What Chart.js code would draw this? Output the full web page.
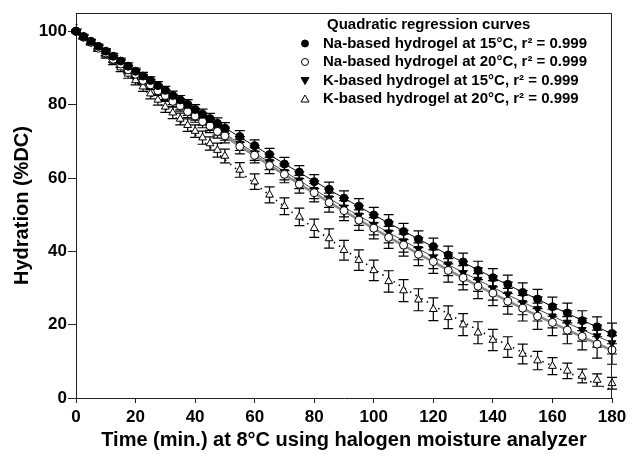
<!DOCTYPE html>
<html lang="en">
<head>
  <meta charset="UTF-8">
  <title>Hydration vs time</title>
  <script src="https://cdn.jsdelivr.net/npm/chart.js"></script>
  <style>
    body { margin: 0; background: #fff; }
    #wrap { width: 633px; height: 457px; }
  </style>
</head>
<body>
  <div id="wrap"><canvas id="chart" width="633" height="457"></canvas></div>

  <script>
    // time points (min.)
    const times = [0, 2.5, 5, 7.5, 10, 12.5, 15, 17.5, 20, 22.5, 25, 27.5, 30, 32.5, 35, 37.5, 40, 42.5, 45, 47.5, 50,
      55, 60, 65, 70, 75, 80, 85, 90, 95, 100, 105, 110, 115, 120, 125, 130, 135, 140, 145, 150, 155, 160, 165, 170, 175, 180];

    // hydration (%DC)
    const na15 = [100, 98.6, 97.3, 95.9, 94.6, 93.2, 91.9, 90.5, 89.1, 87.8, 86.6, 85.2, 83.9, 82.5, 81.3, 80.1, 78.7, 77.4, 76.2, 74.9, 73.6,
      71.3, 68.8, 66.4, 63.8, 61.6, 59.0, 56.9, 54.5, 52.3, 49.9, 47.8, 45.4, 43.3, 41.3, 39.0, 37.1, 34.8, 32.8, 31.0, 28.8, 27.0, 24.9, 23.2, 21.1, 19.4, 17.6];
    const na20 = [100, 98.4, 97.0, 95.4, 94.1, 92.4, 91.1, 89.5, 88.3, 86.6, 85.4, 83.8, 82.5, 80.9, 79.7, 78.1, 76.9, 75.4, 74.2, 72.7, 71.5,
      68.6, 66.2, 63.4, 61.0, 58.3, 56.0, 53.3, 51.1, 48.5, 46.3, 43.8, 41.7, 39.2, 37.2, 34.8, 32.8, 30.5, 28.6, 26.4, 24.5, 22.3, 20.6, 18.5, 16.8, 14.7, 13.1];
    const k15 = [100, 98.5, 97.1, 95.6, 94.2, 92.6, 91.3, 89.8, 88.5, 87.0, 85.7, 84.2, 82.8, 81.4, 80.1, 78.6, 77.4, 76.0, 74.7, 73.4, 72.1,
      69.4, 66.8, 64.4, 61.7, 59.4, 56.8, 54.5, 52.0, 49.8, 47.3, 45.2, 42.8, 40.7, 38.4, 36.5, 34.1, 32.3, 30.0, 28.3, 26.0, 24.3, 22.3, 20.6, 18.6, 16.9, 15.0];
    const k20 = [100, 98.6, 97.0, 95.3, 93.6, 91.9, 90.1, 88.4, 86.6, 84.9, 83.0, 81.3, 79.4, 77.8, 76.1, 74.4, 72.8, 71.0, 69.4, 67.6, 66.0,
      62.2, 59.0, 55.4, 52.3, 49.4, 46.3, 43.5, 40.3, 37.6, 34.8, 31.8, 29.3, 26.8, 24.2, 22.0, 20.0, 17.8, 15.8, 13.9, 12.0, 10.2, 8.7, 7.4, 6.0, 4.9, 4.0];

    // standard deviations
    const errNa15 = [0.3, 0.4, 0.5, 0.6, 0.7, 0.8, 0.8, 0.9, 0.9, 1.0, 1.0, 1.1, 1.1, 1.2, 1.2, 1.3, 1.3, 1.4, 1.4, 1.5, 1.5,
      1.6, 1.6, 1.7, 1.8, 1.8, 1.9, 2.0, 2.0, 2.1, 2.1, 2.2, 2.2, 2.3, 2.3, 2.4, 2.4, 2.5, 2.5, 2.5, 2.6, 2.6, 2.6, 2.7, 2.7, 2.7, 2.8];
    const errNa20 = [0.3, 0.5, 0.6, 0.7, 0.8, 0.9, 1.0, 1.1, 1.1, 1.2, 1.3, 1.3, 1.4, 1.5, 1.5, 1.6, 1.7, 1.7, 1.8, 1.8, 1.9,
      2.0, 2.1, 2.2, 2.3, 2.4, 2.5, 2.6, 2.7, 2.8, 2.9, 3.0, 3.0, 3.1, 3.2, 3.2, 3.3, 3.4, 3.4, 3.5, 3.5, 3.6, 3.6, 3.7, 3.7, 3.8, 3.9];
    const errK15 = [0.3, 0.5, 0.6, 0.7, 0.8, 0.9, 1.0, 1.0, 1.1, 1.2, 1.2, 1.3, 1.4, 1.4, 1.5, 1.5, 1.6, 1.6, 1.7, 1.7, 1.8,
      1.9, 2.0, 2.1, 2.2, 2.3, 2.4, 2.5, 2.6, 2.7, 2.8, 2.9, 3.0, 3.0, 3.1, 3.1, 3.2, 3.2, 3.3, 3.3, 3.3, 3.3, 3.2, 3.2, 3.1, 3.0, 3.0];
    const errK20 = [0.4, 0.6, 0.7, 0.8, 0.9, 1.0, 1.1, 1.2, 1.2, 1.3, 1.4, 1.4, 1.5, 1.6, 1.6, 1.7, 1.7, 1.8, 1.8, 1.9, 1.9,
      2.0, 2.1, 2.2, 2.3, 2.4, 2.5, 2.6, 2.7, 2.8, 2.8, 2.9, 3.0, 3.0, 3.1, 3.1, 3.0, 3.0, 2.9, 2.8, 2.7, 2.5, 2.3, 2.1, 1.9, 1.7, 1.6];

    const seriesNames = [
      'Na-based hydrogel at 15°C, r² = 0.999',
      'Na-based hydrogel at 20°C, r² = 0.999',
      'K-based hydrogel at 15°C, r² = 0.999',
      'K-based hydrogel at 20°C, r² = 0.999'
    ];
    const legendTitle = 'Quadratic regression curves';
    const xTicks = [0, 20, 40, 60, 80, 100, 120, 140, 160, 180];
    const yTicks = [0, 20, 40, 60, 80, 100];

    const FONT = 'Arial, "Liberation Sans", Helvetica, sans-serif';
    Chart.defaults.font.family = FONT;
    Chart.defaults.color = '#000';

    // least squares quadratic y = c0 + c1 x + c2 x^2
    function quadFit(xs, ys) {
      const s = [0, 0, 0, 0, 0], t = [0, 0, 0];
      xs.forEach((x, i) => {
        for (let k = 0; k < 5; k++) s[k] += Math.pow(x, k);
        for (let k = 0; k < 3; k++) t[k] += ys[i] * Math.pow(x, k);
      });
      const m = [[s[0], s[1], s[2], t[0]], [s[1], s[2], s[3], t[1]], [s[2], s[3], s[4], t[2]]];
      for (let c = 0; c < 3; c++) {
        for (let r = c + 1; r < 3; r++) {
          const f = m[r][c] / m[c][c];
          for (let k = c; k < 4; k++) m[r][k] -= f * m[c][k];
        }
      }
      const c = [0, 0, 0];
      for (let r = 2; r >= 0; r--) {
        let v = m[r][3];
        for (let k = r + 1; k < 3; k++) v -= m[r][k] * c[k];
        c[r] = v / m[r][r];
      }
      return times.map(x => ({ x: x, y: c[0] + c[1] * x + c[2] * x * x }));
    }

    const pts = arr => times.map((x, i) => ({ x: x, y: arr[i] }));

    const markers = [
      { style: 'circle', rot: 0, fill: '#000', r: 4 },
      { style: 'circle', rot: 0, fill: '#fff', r: 4 },
      { style: 'triangle', rot: 180, fill: '#000', r: 4.5 },
      { style: 'triangle', rot: 0, fill: '#fff', r: 4.5 }
    ];
    const values = [na15, na20, k15, k20];
    const errors = [errNa15, errNa20, errK15, errK20];
    const fitStyles = [
      { color: '#000', width: 1, dash: [] },
      { color: '#8c8c8c', width: 2.6, dash: [] },
      { color: '#444', width: 1, dash: [] },
      { color: '#000', width: 1.6, dash: [1.5, 5] }
    ];

    const datasets = [];
    values.forEach((v, i) => {
      datasets.push({
        label: 'fit' + i,
        type: 'line',
        data: quadFit(times, v),
        borderColor: fitStyles[i].color,
        borderWidth: fitStyles[i].width,
        borderDash: fitStyles[i].dash,
        pointRadius: 0,
        fill: false,
        tension: 0.4,
        clip: false,
        order: 2
      });
    });
    values.forEach((v, i) => {
      datasets.push({
        label: seriesNames[i],
        type: 'scatter',
        data: pts(v),
        errors: errors[i],
        showLine: false,
        pointStyle: markers[i].style,
        rotation: markers[i].rot,
        pointRadius: markers[i].r,
        backgroundColor: markers[i].fill,
        borderColor: '#000',
        borderWidth: 1,
        clip: false,
        order: 1
      });
    });

    // vertical error bars with caps
    const errorBars = {
      id: 'errorBars',
      beforeDatasetsDraw(chart) {
        const { ctx, scales: { x, y } } = chart;
        ctx.save();
        ctx.strokeStyle = '#000';
        ctx.lineWidth = 1.2;
        chart.data.datasets.forEach(ds => {
          if (!ds.errors) return;
          ds.data.forEach((p, i) => {
            const px = x.getPixelForValue(p.x);
            const y1 = y.getPixelForValue(p.y + ds.errors[i]);
            const y2 = y.getPixelForValue(p.y - ds.errors[i]);
            ctx.beginPath();
            ctx.moveTo(px, y1); ctx.lineTo(px, y2);
            ctx.moveTo(px - 5, y1); ctx.lineTo(px + 5, y1);
            ctx.moveTo(px - 5, y2); ctx.lineTo(px + 5, y2);
            ctx.stroke();
          });
        });
        ctx.restore();
      }
    };

    // box around plot + legend inside the top right
    const frameAndLegend = {
      id: 'frameAndLegend',
      afterDraw(chart) {
        const { ctx, chartArea: a } = chart;
        ctx.save();
        ctx.strokeStyle = '#222';
        ctx.lineWidth = 1;
        ctx.beginPath();
        ctx.moveTo(a.left, a.top + 0.5);
        ctx.lineTo(a.right - 0.5, a.top + 0.5);
        ctx.lineTo(a.right - 0.5, a.bottom);
        ctx.stroke();

        const mx = 305, tx = 323;
        const rows = [43.5, 62, 80.5, 99];
        ctx.font = 'bold 15px ' + FONT;
        ctx.fillStyle = '#000';
        ctx.textBaseline = 'middle';
        ctx.textAlign = 'left';
        ctx.fillText(legendTitle, 327, 25);
        seriesNames.forEach((name, i) => {
          const yy = rows[i];
          ctx.fillText(name, tx, yy);
          ctx.fillStyle = markers[i].fill;
          ctx.strokeStyle = '#000';
          ctx.lineWidth = 1;
          ctx.beginPath();
          if (markers[i].style === 'circle') {
            ctx.arc(mx, yy, 3.5, 0, Math.PI * 2);
          } else if (markers[i].rot === 180) {
            ctx.moveTo(mx - 4, yy - 3); ctx.lineTo(mx + 4, yy - 3); ctx.lineTo(mx, yy + 4); ctx.closePath();
          } else {
            ctx.moveTo(mx - 4, yy + 3); ctx.lineTo(mx + 4, yy + 3); ctx.lineTo(mx, yy - 4); ctx.closePath();
          }
          ctx.fill();
          ctx.stroke();
          ctx.fillStyle = '#000';
        });
        ctx.restore();
      }
    };

    const tickFont = { family: FONT, size: 17, weight: 'bold' };

    new Chart(document.getElementById('chart'), {
      type: 'scatter',
      data: { datasets: datasets },
      options: {
        responsive: false,
        animation: false,
        layout: { padding: { top: 13, right: 21, left: 0, bottom: 0 } },
        plugins: { legend: { display: false }, tooltip: { enabled: false } },
        scales: {
          x: {
            type: 'linear',
            min: 0, max: 180,
            afterBuildTicks: s => { s.ticks = xTicks.map(v => ({ value: v })); },
            afterFit: s => { s.height = 59; },
            ticks: { font: tickFont, color: '#000', padding: 4, maxRotation: 0 },
            grid: { drawOnChartArea: false, drawTicks: true, tickLength: 5, color: '#222' },
            border: { display: true, color: '#222', width: 1 },
            title: { display: true, text: 'Time (min.) at 8°C using halogen moisture analyzer', font: { family: FONT, size: 20, weight: 'bold' }, color: '#000', padding: { top: 0, bottom: 5 } }
          },
          y: {
            type: 'linear',
            min: 0, max: 105,
            afterBuildTicks: s => { s.ticks = yTicks.map(v => ({ value: v })); },
            afterFit: s => { s.width = 76; },
            ticks: { font: tickFont, color: '#000', padding: 1 },
            grid: { drawOnChartArea: false, drawTicks: true, tickLength: 8, color: '#222' },
            border: { display: true, color: '#222', width: 1 },
            title: { display: true, text: 'Hydration (%DC)', font: { family: FONT, size: 20, weight: 'bold' }, color: '#000', padding: { top: 10, bottom: 0 } }
          }
        }
      },
      plugins: [errorBars, frameAndLegend]
    });
  </script>
</body>
</html>
